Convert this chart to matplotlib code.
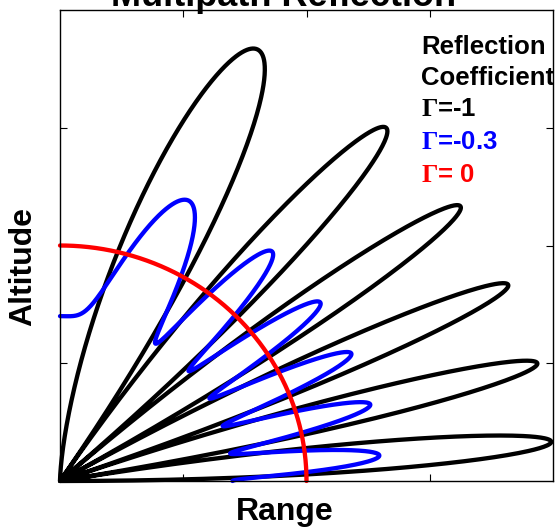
#!/usr/bin/env python3

import numpy as np
import matplotlib
matplotlib.use("Agg")
import matplotlib.pyplot as plt


# Two-ray multipath: direct path plus a ground reflection
REFLECTION_COEFFS = [-1.0, -0.3, 0.0]
COEFF_LABELS = ["=-1", "=-0.3", "= 0"]
COEFF_COLORS = ["black", "#0000ff", "#ff0000"]
ANTENNA_HEIGHT_WL = 3.0          # antenna height in wavelengths
N_ANGLES = 2000

AXIS_MAX = 2.0
TICKS = [0.5, 1.0, 1.5]

plt.rcParams["font.family"] = ["Liberation Sans", "DejaVu Sans"]
plt.rcParams["mathtext.fontset"] = "custom"
plt.rcParams["mathtext.rm"] = "Liberation Serif:bold"
plt.rcParams["mathtext.bf"] = "Liberation Serif:bold"


def pattern(gamma, elev):
    # path difference phase for a reflection off flat ground
    phase = 4.0 * np.pi * ANTENNA_HEIGHT_WL * np.sin(elev)
    return np.abs(1.0 + gamma * np.exp(1j * phase))


W, H = 560, 530
fig = plt.figure(figsize=(W / 100, H / 100), dpi=100)
ax = fig.add_axes([60 / W, 1 - 481 / H, 493 / W, 471 / H])

elev = np.linspace(0.0, np.pi / 2, N_ANGLES)
for gamma, color in zip(REFLECTION_COEFFS, COEFF_COLORS):
    r = pattern(gamma, elev)
    ax.plot(r * np.cos(elev), r * np.sin(elev), color=color, linewidth=3.1,
            solid_capstyle="round", solid_joinstyle="round", clip_on=False)

ax.set_xlim(0, AXIS_MAX)
ax.set_ylim(0, AXIS_MAX)
ax.set_xticks(TICKS)
ax.set_yticks(TICKS)
ax.set_xticklabels([])
ax.set_yticklabels([])
ax.tick_params(direction="in", length=5, width=0.8, top=True, right=True)
for spine in ax.spines.values():
    spine.set_linewidth(1.0)

# coefficient key in the upper right
fig.text(421 / W, 1 - 47 / H, "Reflection", fontsize=18.5, fontweight="bold",
         ha="left", va="center")
fig.text(421 / W, 1 - 78 / H, "Coefficient", fontsize=18.5, fontweight="bold",
         ha="left", va="center")
for i, (lab, color) in enumerate(zip(COEFF_LABELS, COEFF_COLORS)):
    fig.text(421 / W, 1 - (109 + 33 * i) / H, r"$\Gamma$" + lab, fontsize=18.5,
             fontweight="bold", color=color, ha="left", va="center")

fig.text(284 / W, 1 - 6 / H, "Multipath Reflection", fontsize=26,
         fontweight="bold", ha="center", va="baseline")
fig.text(285 / W, 1 - 512 / H, "Range", fontsize=23, fontweight="bold",
         ha="center", va="center")
fig.text(23 / W, 1 - 267 / H, "Altitude", fontsize=23, fontweight="bold",
         ha="center", va="center", rotation=90)

fig.savefig("out.png", dpi=100)
